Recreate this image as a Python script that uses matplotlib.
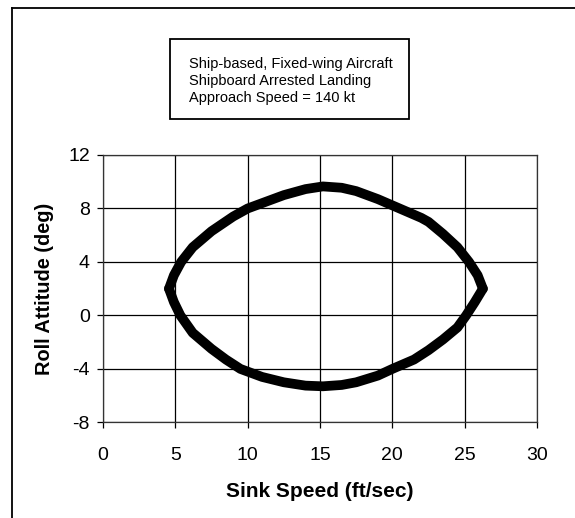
import matplotlib
matplotlib.use("Agg")
import matplotlib.pyplot as plt
import numpy as np
from matplotlib.lines import Line2D
from matplotlib.patches import Rectangle

plt.rcParams['font.family'] = ['Liberation Sans', 'DejaVu Sans']
plt.rcParams['axes.unicode_minus'] = False

# Upper boundary (left tip -> right tip)
upper_x = [4.56, 4.9, 5.4, 6.2, 7.5, 9.0, 10.0, 11.5, 12.5, 14.0, 15.2, 16.5, 17.5, 19.0, 20.5, 22.0, 22.5, 23.5, 24.5, 25.3, 25.9, 26.26]
upper_y = [2.0, 3.0, 4.0, 5.1, 6.3, 7.4, 8.0, 8.6, 9.0, 9.45, 9.65, 9.55, 9.3, 8.7, 8.0, 7.3, 7.0, 6.1, 5.1, 4.0, 3.0, 2.0]
# Lower boundary (left tip -> right tip)
lower_x = [4.56, 4.9, 5.35, 6.2, 7.5, 8.5, 9.5, 11.0, 12.5, 14.0, 15.2, 16.5, 17.5, 19.0, 20.0, 21.5, 22.5, 23.5, 24.5, 25.1, 25.7, 26.26]
lower_y = [2.0, 1.0, 0.0, -1.3, -2.5, -3.3, -4.0, -4.6, -5.0, -5.25, -5.3, -5.2, -5.0, -4.5, -4.0, -3.3, -2.6, -1.8, -0.9, 0.0, 1.0, 2.0]

x_ticks = [0, 5, 10, 15, 20, 25, 30]
y_ticks = [-8, -4, 0, 4, 8, 12]

title_lines = ["Ship-based, Fixed-wing Aircraft",
               "Shipboard Arrested Landing",
               "Approach Speed = 140 kt"]

W, H = 575, 518
fig = plt.figure(figsize=(W / 100, H / 100), dpi=100)

# outer frame (left & top edges only visible)
fig.add_artist(Line2D([11.5 / W, 11.5 / W], [0, 1 - 8.3 / H], color='black', lw=1.3))
fig.add_artist(Line2D([11.5 / W, 1.0], [1 - 8.3 / H, 1 - 8.3 / H], color='black', lw=1.3))

ax = fig.add_axes([103 / W, 1 - 422.4 / H, (537 - 103) / W, (422.4 - 155) / H])
ax.plot(upper_x, upper_y, color='black', lw=7, solid_joinstyle='round', solid_capstyle='round', zorder=3)
ax.plot(lower_x, lower_y, color='black', lw=7, solid_joinstyle='round', solid_capstyle='round', zorder=3)

ax.set_xlim(0, 30)
ax.set_ylim(-8, 12)
ax.set_xticks(x_ticks)
ax.set_yticks(y_ticks)
ax.grid(True, color='black', lw=0.9)
ax.set_axisbelow(True)
for s in ax.spines.values():
    s.set_color('#333333')
    s.set_linewidth(0.9)
ax.tick_params(axis='both', labelsize=14, length=4.5, width=0.9, direction='out')
ax.tick_params(axis='y', pad=5)
ax.tick_params(axis='x', pad=13)
ax.set_xlabel("Sink Speed (ft/sec)", fontsize=15, fontweight='bold', labelpad=13)
ax.set_ylabel("Roll Attitude (deg)", fontsize=14.4, fontweight='bold', labelpad=10)

# title box
fig.add_artist(Rectangle((170 / W, 1 - 119 / H), (409 - 170) / W, (119 - 39) / H,
                         transform=fig.transFigure, fill=False, edgecolor='black', lw=1.3))
fig.text(189 / W, 1 - 81 / H, "\n".join(title_lines), fontsize=10.5, va='center', ha='left',
         linespacing=1.3)

fig.savefig("out.png", dpi=100)
